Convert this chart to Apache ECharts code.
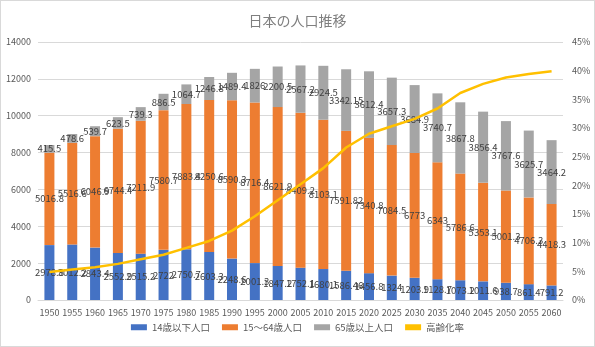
<!DOCTYPE html>
<html><head><meta charset="utf-8">
<script src="https://cdn.jsdelivr.net/npm/echarts@6/dist/echarts.min.js"></script>
<style>
html,body{margin:0;padding:0;background:#fff;}
#c{width:593px;height:345px;border:1px solid #D9D9D9;}
</style></head>
<body><div id="c"></div>
<script>
const years = ['1950','1955','1960','1965','1970','1975','1980','1985','1990','1995','2000','2005','2010','2015','2020','2025','2030','2035','2040','2045','2050','2055','2060'];
const young = [2978.8,3012.2,2843.4,2552.9,2515.2,2722,2750.7,2603.3,2248.6,2001.3,1847.2,1752.1,1680.1,1586.46,1456.8,1324,1203.9,1128.7,1073.2,1011.6,938.7,861.4,791.2];
const working = [5016.8,5516.6,6046.9,6744.4,7211.9,7580.7,7883.4,8250.6,8590.3,8716.4,8621.9,8409.2,8103.1,7591.82,7340.8,7084.5,6773,6343,5786.6,5353.1,5001.3,4706.3,4418.3];
const elderly = [415.5,478.6,539.7,623.5,739.3,886.5,1064.7,1246.8,1489.4,1826,2200.5,2567.2,2924.5,3342.15,3612.4,3657.3,3684.9,3740.7,3867.8,3856.4,3767.6,3625.7,3464.2];
const agingRate = [0.049,0.053,0.057,0.063,0.071,0.079,0.091,0.103,0.121,0.146,0.174,0.202,0.230,0.266,0.290,0.303,0.316,0.334,0.361,0.377,0.388,0.394,0.399];
const seriesNames = ['14歳以下人口','15～64歳人口','65歳以上人口','高齢化率'];

const font = '"Noto Sans CJK JP", "Noto Sans", sans-serif';
const lbl = {show:true, position:'inside', color:'#404040', fontSize:9.5, fontFamily:font};
const chart = echarts.init(document.getElementById('c'));
chart.setOption({
  animation:false,
  title:{text:'日本の人口推移', left:'center', top:8, textStyle:{fontSize:14, fontWeight:'normal', color:'#7F7F7F', fontFamily:font}},
  grid:{left:37, right:31, top:41, bottom:46},
  legend:{bottom:9, left:'center', itemWidth:16, itemHeight:6, itemGap:12,
    textStyle:{fontSize:9.5, color:'#595959', fontFamily:font},
    data:seriesNames.map((n,i)=> i===3 ? {name:n, icon:'rect', itemStyle:{color:'#FFC000'}} : {name:n, icon:'rect'})},
  xAxis:{type:'category', data:years, axisTick:{show:false},
    axisLine:{lineStyle:{color:'#D9D9D9'}},
    axisLabel:{color:'#595959', fontSize:9, fontFamily:font, margin:8, interval:0}},
  yAxis:[
    {type:'value', min:0, max:14000, interval:2000, axisLine:{show:false}, axisTick:{show:false},
     splitLine:{lineStyle:{color:'#D9D9D9'}},
     axisLabel:{color:'#595959', fontSize:9, fontFamily:font, margin:7, formatter:v=>String(v)}},
    {type:'value', min:0, max:0.45, interval:0.05, axisLine:{show:false}, axisTick:{show:false},
     splitLine:{show:false},
     axisLabel:{color:'#595959', fontSize:9, fontFamily:font, margin:9,
       formatter:v=>Math.round(v*100)+'%'}}
  ],
  series:[
    {name:seriesNames[0], type:'bar', stack:'p', data:young, barWidth:10, itemStyle:{color:'#4472C4'}, label:lbl},
    {name:seriesNames[1], type:'bar', stack:'p', data:working, barWidth:10, itemStyle:{color:'#ED7D31'}, label:lbl},
    {name:seriesNames[2], type:'bar', stack:'p', data:elderly, barWidth:10, itemStyle:{color:'#A5A5A5'}, label:lbl},
    {name:seriesNames[3], type:'line', yAxisIndex:1, data:agingRate, showSymbol:false, symbol:'none',
     lineStyle:{color:'#FFC000', width:2.5}, itemStyle:{color:'#FFC000'}, z:5}
  ]
});
</script></body></html>
